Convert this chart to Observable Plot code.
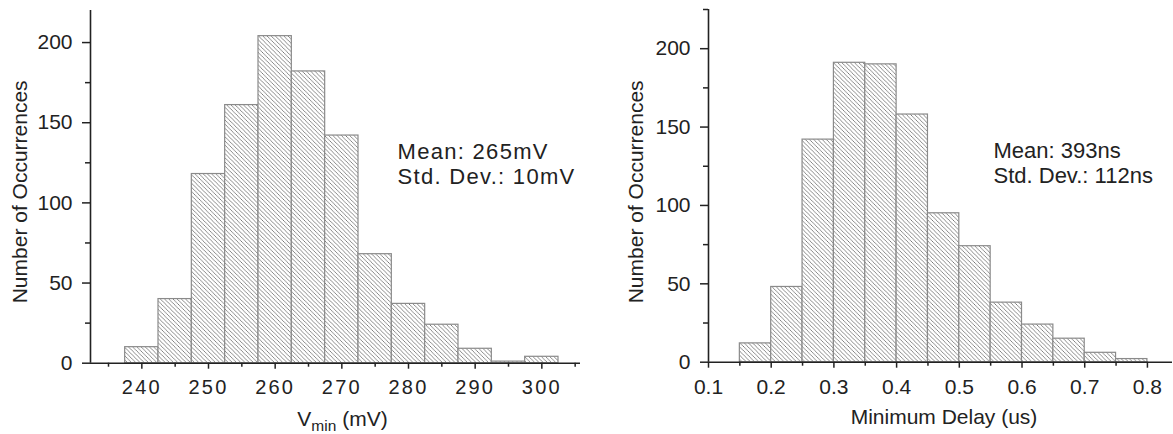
<!DOCTYPE html>
<html><head><meta charset="utf-8">
<script src="https://cdn.jsdelivr.net/npm/d3@7"></script>
<script src="https://cdn.jsdelivr.net/npm/@observablehq/plot@0.6"></script>
<style>
body{margin:0;background:#fff;}
#wrap{display:flex;width:1173px;height:434px;overflow:hidden;}
#wrap svg{display:block;}
</style></head><body><div id="wrap"></div>
<script>
// ---------- Left histogram: V_min (mV) ----------
const vminBinLo = [237.5, 242.5, 247.5, 252.5, 257.5, 262.5, 267.5, 272.5, 277.5, 282.5, 287.5, 292.5, 297.5];
const vminBinHi = [242.5, 247.5, 252.5, 257.5, 262.5, 267.5, 272.5, 277.5, 282.5, 287.5, 292.5, 297.5, 302.5];
const vminCounts = [10, 40, 118, 161, 204, 182, 142, 68, 37, 24, 9, 1, 4];
const vminTicks = [240, 250, 260, 270, 280, 290, 300];
const vminMinorTicks = [235, 245, 255, 265, 275, 285, 295, 305];
const vminDomain = [232.3, 305.8];
const vminCountDomain = [0, 220];
const vminStats = ["Mean: 265mV", "Std. Dev.: 10mV"];
const vminTitle = "Vmin (mV)";

// ---------- Right histogram: Minimum Delay (us) ----------
const delayBinLo = [0.15, 0.20, 0.25, 0.30, 0.35, 0.40, 0.45, 0.50, 0.55, 0.60, 0.65, 0.70, 0.75];
const delayBinHi = [0.20, 0.25, 0.30, 0.35, 0.40, 0.45, 0.50, 0.55, 0.60, 0.65, 0.70, 0.75, 0.80];
const delayCounts = [12, 48, 142, 191, 190, 158, 95, 74, 38, 24, 15, 6, 2];
const delayTicks = [0.1, 0.2, 0.3, 0.4, 0.5, 0.6, 0.7, 0.8];
const delayMinorTicks = [0.15, 0.25, 0.35, 0.45, 0.55, 0.65, 0.75];
const delayDomain = [0.1, 0.84];
const delayCountDomain = [0, 225];
const delayStats = ["Mean: 393ns", "Std. Dev.: 112ns"];
const delayTitle = "Minimum Delay (us)";

// ---------- Shared y ticks ----------
const countTicks = [0, 50, 100, 150, 200];
const countMinorTicks = [25, 75, 125, 175, 225];
const yTitle = "Number of Occurrences";

const FONT = "'Liberation Sans', Arial, Helvetica, sans-serif";

function histogram(cfg) {
  const rows = cfg.lo.map((d, i) => ({lo: d, hi: cfg.hi[i], n: cfg.counts[i]}));
  const minorY = countMinorTicks.filter(v => v <= cfg.yDomain[1]);
  const svg = Plot.plot({
    width: cfg.width, height: 434,
    marginLeft: cfg.ml, marginRight: cfg.mr, marginTop: cfg.mt, marginBottom: cfg.mb,
    x: {domain: cfg.xDomain},
    y: {domain: cfg.yDomain},
    style: {fontFamily: FONT, fontSize: "20px", color: "#222", background: "white", overflow: "visible"},
    marks: [
      Plot.rectY(rows, {x1: "lo", x2: "hi", y: "n", fill: `url(#${cfg.id})`, stroke: "#8a8a8a", strokeWidth: 1.2}),
      Plot.axisY(countTicks, {anchor: "left", tickSize: 8, tickPadding: 10, label: null, fontSize: 21, strokeWidth: 1.5}),
      Plot.axisY(minorY, {anchor: "left", tickSize: 5, tickFormat: () => "", label: null, strokeWidth: 1.5}),
      Plot.axisX(cfg.ticks, {anchor: "bottom", tickSize: 6, tickPadding: 11, label: null, fontSize: cfg.xFont, strokeWidth: 1.5, tickFormat: cfg.fmt}),
      Plot.axisX(cfg.minor, {anchor: "bottom", tickSize: 4, tickFormat: () => "", label: null, strokeWidth: 1.5}),
      Plot.ruleX([cfg.xDomain[0]], {strokeWidth: 1.6}),
      Plot.ruleY([0], {strokeWidth: 1.6}),
      Plot.text([cfg.stats.join("\n")], {frameAnchor: "top-left", dx: cfg.statDx, dy: cfg.statDy, textAnchor: "start", lineAnchor: "top", lineHeight: 1.14, fontSize: 22, fill: "#222"}),
      Plot.text([yTitle], {frameAnchor: "left", rotate: -90, dx: cfg.yTitleDx, dy: cfg.yTitleDy, textAnchor: "middle", lineAnchor: "middle", fontSize: 21, fill: "#222"}),
      Plot.text([cfg.title], {frameAnchor: "bottom", dx: cfg.xTitleDx, dy: cfg.xTitleDy, textAnchor: "middle", lineAnchor: "middle", fontSize: 21, fill: "#222"})
    ]
  });
  const s = d3.select(svg);
  const defs = s.insert("defs", ":first-child");
  const p = defs.append("pattern").attr("id", cfg.id).attr("patternUnits", "userSpaceOnUse")
    .attr("width", 4.2).attr("height", 4.2);
  p.append("rect").attr("width", 4.2).attr("height", 4.2).attr("fill", "white");
  p.append("path").attr("d", "M-1,-1L5.2,5.2M-1,3.2L1,5.2M3.2,-1L5.2,1")
    .attr("stroke", "#6e6e6e").attr("stroke-width", 0.8).attr("fill", "none");
  if (cfg.spacing) {
    s.selectAll('g[aria-label="x-axis tick label"] text').attr("letter-spacing", cfg.spacing);
    s.selectAll("text").filter(function () { return cfg.stats.some(t => this.textContent.includes(t)); })
      .attr("letter-spacing", cfg.statSpacing);
  }
  return svg;
}

const left = histogram({
  id: "hatchL", width: 586, ml: 90, mr: 6, mt: 10, mb: 71.3,
  lo: vminBinLo, hi: vminBinHi, counts: vminCounts,
  xDomain: vminDomain, yDomain: vminCountDomain,
  ticks: vminTicks, minor: vminMinorTicks, fmt: d => String(d), xFont: 20,
  stats: vminStats, statDx: 307, statDy: 131,
  yTitleDx: -70.5, yTitleDy: 5, title: vminTitle, xTitleDx: 7, xTitleDy: 55.6,
  spacing: 2.2, statSpacing: 1.3
});
const right = histogram({
  id: "hatchR", width: 587, ml: 122, mr: 1, mt: 9, mb: 72.3,
  lo: delayBinLo, hi: delayBinHi, counts: delayCounts,
  xDomain: delayDomain, yDomain: delayCountDomain,
  ticks: delayTicks, minor: delayMinorTicks, fmt: d => d.toFixed(1), xFont: 21,
  stats: delayStats, statDx: 285, statDy: 131,
  yTitleDx: -72, yTitleDy: 6, title: delayTitle, xTitleDx: 3.5, xTitleDy: 54.6
});

// subscript for V_min
d3.select(left).selectAll("text").filter(function () { return this.textContent === vminTitle; })
  .each(function () {
    const t = d3.select(this);
    t.text("");
    t.append("tspan").text("V");
    t.append("tspan").attr("dy", 5).attr("font-size", 15.5).text("min");
    t.append("tspan").attr("dy", -5).text(" (mV)");
  });

document.getElementById("wrap").append(left, right);
</script>
</body></html>
